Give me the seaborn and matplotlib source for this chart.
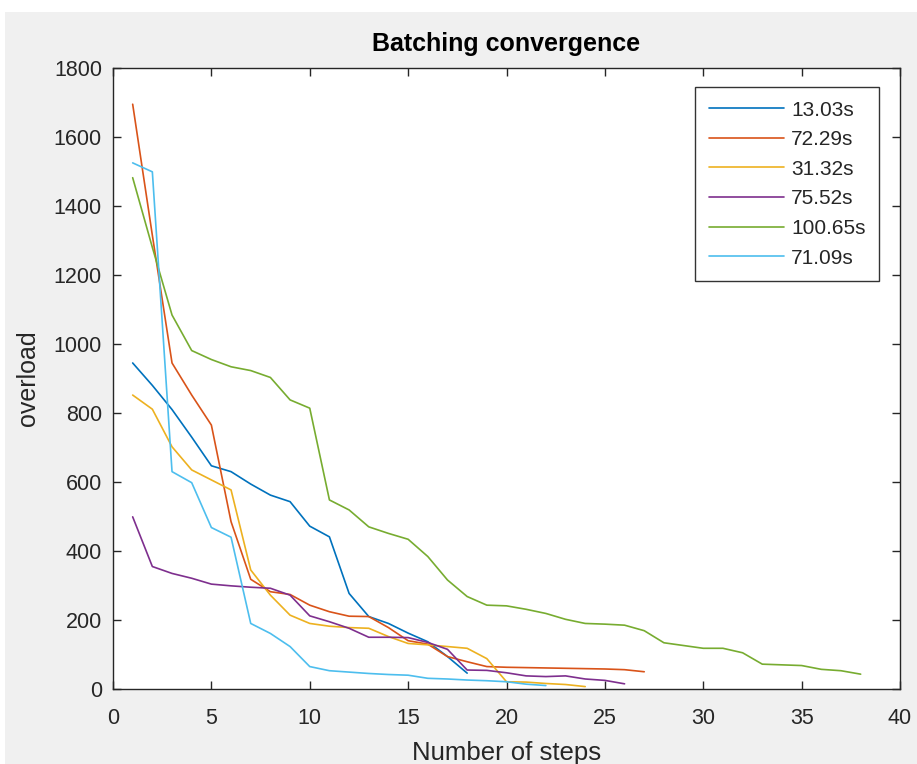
import numpy as np
import pandas as pd
import matplotlib
matplotlib.use("Agg")
import matplotlib.pyplot as plt
from matplotlib.patches import Rectangle
import seaborn as sns

labels = ["13.03s", "72.29s", "31.32s", "75.52s", "100.65s", "71.09s"]
colors = ["#0072BD", "#D95319", "#EDB120", "#7E2F8E", "#77AC30", "#4DBEEE"]

s_13_03 = [945, 880, 810, 730, 647, 630, 594, 562, 543, 472, 441, 277, 210, 190, 162, 137, 94, 46]
s_72_29 = [1695, 1315, 945, 852, 765, 485, 318, 282, 274, 243, 224, 211, 210, 178, 140, 130, 94, 79,
           65, 63, 62, 61, 60, 59, 58, 56, 50]
s_31_32 = [852, 811, 702, 635, 606, 577, 345, 272, 214, 190, 182, 178, 176, 152, 132, 128, 123, 118,
           88, 21, 20, 16, 13, 7]
s_75_52 = [499, 355, 335, 321, 304, 299, 295, 292, 272, 212, 195, 176, 150, 150, 149, 135, 115, 55,
           54, 47, 38, 36, 38, 29, 25, 15]
s_100_65 = [1482, 1280, 1084, 981, 955, 934, 923, 903, 838, 814, 548, 519, 470, 451, 434, 384, 316,
            268, 243, 241, 231, 219, 202, 190, 188, 185, 169, 134, 126, 118, 118, 105, 72, 70, 68,
            57, 53, 43]
s_71_09 = [1525, 1499, 630, 598, 468, 440, 190, 161, 123, 65, 53, 49, 45, 42, 40, 31, 29, 26, 24,
           21, 14, 10]

series = [s_13_03, s_72_29, s_31_32, s_75_52, s_100_65, s_71_09]

frames = []
for lab, vals in zip(labels, series):
    frames.append(pd.DataFrame({"step": np.arange(1, len(vals) + 1), "overload": vals, "run": lab}))
df = pd.concat(frames, ignore_index=True)

sns.set_theme(style="white")
plt.rcParams["font.family"] = ["Liberation Sans", "DejaVu Sans"]

fig = plt.figure(figsize=(9.17, 7.64), dpi=100, facecolor="#f0f0f0")
ax = fig.add_axes([113 / 917, 1 - 689 / 764, (900 - 113) / 917, (689 - 68) / 764])
ax.set_facecolor("white")

# white strips at top/left of the screenshot
fig.patches.append(Rectangle((0, 1 - 12 / 764), 1, 12 / 764, transform=fig.transFigure,
                             facecolor="white", edgecolor="none", zorder=-10))
fig.patches.append(Rectangle((0, 0), 5 / 917, 1, transform=fig.transFigure,
                             facecolor="white", edgecolor="none", zorder=-10))

sns.lineplot(data=df, x="step", y="overload", hue="run", hue_order=labels,
             palette=colors, linewidth=1.2, ax=ax, estimator=None, sort=False)

ax.set_xlim(0, 40)
ax.set_ylim(0, 1800)
ax.set_xticks(np.arange(0, 41, 5))
ax.set_yticks(np.arange(0, 1801, 200))
ax.tick_params(direction="in", length=6, width=1, colors="#262626", labelsize=15.5,
               top=True, right=True, bottom=True, left=True)
ax.tick_params(axis="x", pad=14)
ax.tick_params(axis="y", pad=8)
for t in ax.get_xticklabels() + ax.get_yticklabels():
    t.set_color("#262626")
for sp in ax.spines.values():
    sp.set_color("#262626")
    sp.set_linewidth(1.0)

ax.set_xlabel("Number of steps", fontsize=18.5, color="#262626", labelpad=8)
ax.set_ylabel("overload", fontsize=18, color="#262626", labelpad=10)
ax.set_title("Batching convergence", fontsize=18, fontweight="bold", color="black", pad=12)

leg = ax.legend(loc="upper right", bbox_to_anchor=((879 - 113) / 787, (689 - 87) / 621),
                borderaxespad=0, fontsize=15, frameon=True, fancybox=False, edgecolor="black",
                handlelength=3.6, borderpad=0.65, labelspacing=0.51, handletextpad=0.35)
leg.get_frame().set_linewidth(1.0)
for t in leg.get_texts():
    t.set_color("#262626")

fig.savefig("out.png", dpi=100, facecolor=fig.get_facecolor())
